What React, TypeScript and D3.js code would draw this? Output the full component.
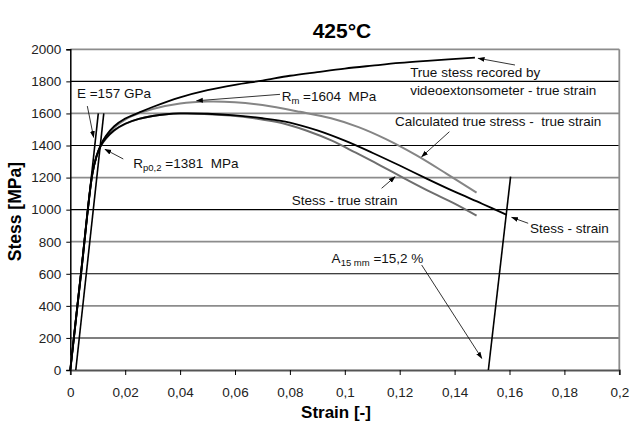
// import d3 for the chart
import * as d3 from "d3";
import { useRef, useEffect } from "react";

// axis ticks
const strainTicks = [0, 0.02, 0.04, 0.06, 0.08, 0.1, 0.12, 0.14, 0.16, 0.18, 0.2];
const strainTickLabels = ["0", "0,02", "0,04", "0,06", "0,08", "0,1", "0,12", "0,14", "0,16", "0,18", "0,2"];
const stressTicks = [0, 200, 400, 600, 800, 1000, 1200, 1400, 1600, 1800, 2000];

// true stress recorded by videoextensometer - true strain
const videoStrain = [0, 0.004, 0.008, 0.0095, 0.011, 0.013, 0.016, 0.02, 0.025, 0.03, 0.04, 0.05, 0.06, 0.07, 0.08, 0.09, 0.1, 0.11, 0.12, 0.13, 0.1474];
const videoStress = [0, 615, 1220, 1330, 1400, 1460, 1520, 1568, 1605, 1640, 1700, 1745, 1778, 1805, 1835, 1858, 1880, 1898, 1915, 1928, 1948];

// calculated true stress - true strain
const calcStrain = [0, 0.004, 0.008, 0.0095, 0.011, 0.013, 0.016, 0.02, 0.025, 0.03, 0.04, 0.05, 0.06, 0.07, 0.0837, 0.095, 0.105, 0.115, 0.126, 0.137, 0.148];
const calcStress = [0, 615, 1220, 1330, 1398, 1455, 1512, 1562, 1600, 1628, 1662, 1674, 1670, 1652, 1610, 1570, 1515, 1440, 1340, 1225, 1106];

// stress - true strain
const trueStrain = [0, 0.004, 0.008, 0.0095, 0.011, 0.013, 0.016, 0.02, 0.025, 0.03, 0.035, 0.0392, 0.0488, 0.0583, 0.0677, 0.077, 0.0862, 0.0953, 0.104, 0.113, 0.122, 0.131, 0.14, 0.148];
const trueStress = [0, 615, 1220, 1330, 1393, 1443, 1494, 1535, 1566, 1584, 1595, 1599, 1597, 1587, 1568, 1540, 1492, 1430, 1355, 1275, 1192, 1112, 1037, 962];

// stress - strain
const engStrain = [0, 0.004, 0.008, 0.0095, 0.011, 0.013, 0.016, 0.02, 0.025, 0.03, 0.035, 0.04, 0.05, 0.06, 0.07, 0.08, 0.09, 0.1, 0.11, 0.12, 0.13, 0.14, 0.15, 0.159];
const engStress = [0, 615, 1220, 1330, 1395, 1445, 1495, 1536, 1566, 1584, 1595, 1600, 1598, 1588, 1570, 1543, 1494, 1430, 1355, 1275, 1192, 1112, 1037, 967];

// straight lines: modulus line, 0.2 % offset line, unloading line at fracture
const modulusLine = [[0, 0], [0.0102, 1600]];
const offsetLine = [[0.002, 0], [0.0122, 1600]];
const unloadLine = [[0.1523, 0], [0.1604, 1206]];

// annotation texts and arrows (strain, stress)
const notes = [
  { x: 0.00244, y: 1696, parts: [["E =157 GPa", ""]] },
  { x: 0.02295, y: 1260, parts: [["R", ""], ["p0,2", "sub"], [" =1381  MPa", ""]] },
  { x: 0.077, y: 1678, parts: [["R", ""], ["m", "sub"], [" =1604  MPa", ""]] },
  { x: 0.1238, y: 1830, parts: [["True stess recored by", ""]] },
  { x: 0.1238, y: 1715, parts: [["videoextonsometer - true strain", ""]] },
  { x: 0.1183, y: 1519, parts: [["Calculated true stress -  true strain", ""]] },
  { x: 0.0807, y: 1029, parts: [["Stess - true strain", ""]] },
  { x: 0.1675, y: 854, parts: [["Stess - strain", ""]] },
  { x: 0.0952, y: 667, parts: [["A", ""], ["15 mm", "sub"], [" =15,2 %", ""]] },
];
const arrows = [
  [[0.0062, 1646], [0.0085, 1451]],
  [[0.0193, 1316], [0.01264, 1376]],
  [[0.0764, 1719], [0.046, 1679]],
  [[0.162, 1902], [0.1486, 1944]],
  [[0.1381, 1486], [0.128, 1330]],
  [[0.1134, 1133], [0.1183, 1205]],
  [[0.1668, 915], [0.1608, 952]],
  [[0.128, 655], [0.1499, 73]],
];

const W = 630;
const H = 421;
const FONT = "'Liberation Sans', Arial, sans-serif";

export default function App() {
  const svgRef = useRef<SVGSVGElement>(null);

  useEffect(() => {
    const svg = d3.select(svgRef.current);
    svg.selectAll("*").remove();

    const x = d3.scaleLinear().domain([0, 0.2]).range([70.3, 619.3]);
    const y = d3.scaleLinear().domain([0, 2000]).range([370, 49.3]);

    // arrow marker
    svg.append("defs").append("marker")
      .attr("id", "head")
      .attr("viewBox", "0 0 10 10")
      .attr("refX", 9).attr("refY", 5)
      .attr("markerWidth", 7).attr("markerHeight", 7)
      .attr("markerUnits", "userSpaceOnUse")
      .attr("orient", "auto")
      .append("path").attr("d", "M0,1.5 L10,5 L0,8.5 Z").attr("fill", "#000");

    // gridlines, alternating black / grey like the original
    svg.append("g").selectAll("line")
      .data(stressTicks.slice(1))
      .enter().append("line")
      .attr("x1", x(0)).attr("x2", x(0.2))
      .attr("y1", d => y(d)).attr("y2", d => y(d))
      .attr("stroke", (d) => (d / 200) % 2 === 1 ? "#000" : "#8c8c8c")
      .attr("stroke-width", (d) => (d / 200) % 2 === 1 ? 1.1 : 1.8);

    // right border
    svg.append("line")
      .attr("x1", x(0.2)).attr("x2", x(0.2))
      .attr("y1", y(2000)).attr("y2", y(0))
      .attr("stroke", "#8c8c8c").attr("stroke-width", 1.8);

    // axes
    const xAxis = svg.append("g")
      .attr("transform", `translate(0,${y(0)})`)
      .call(d3.axisBottom(x).tickValues(strainTicks).tickSize(5).tickFormat((d, i) => strainTickLabels[i]));
    xAxis.select(".domain").attr("stroke", "#555").attr("stroke-width", 1.8);
    xAxis.selectAll(".tick line").attr("stroke", "#000");
    xAxis.selectAll("text").attr("font-family", FONT).attr("font-size", 13.5).attr("fill", "#222").attr("dy", "1.4em");

    const yAxis = svg.append("g")
      .attr("transform", `translate(${x(0)},0)`)
      .call(d3.axisLeft(y).tickValues(stressTicks).tickSize(4).tickFormat(d3.format("d")));
    yAxis.select(".domain").attr("stroke", "#000").attr("stroke-width", 1.5);
    yAxis.selectAll(".tick line").attr("stroke", "#000");
    yAxis.selectAll("text").attr("font-family", FONT).attr("font-size", 13.5).attr("fill", "#222").attr("x", -9);

    const line = d3.line<number[]>().curve(d3.curveCatmullRom.alpha(0.5));
    const drawCurve = (xs: number[], ys: number[], color: string, w: number) => {
      svg.append("path")
        .datum(xs.map((v, i) => [x(v), y(ys[i])]))
        .attr("d", line as any)
        .attr("fill", "none")
        .attr("stroke", color)
        .attr("stroke-width", w);
    };

    drawCurve(calcStrain, calcStress, "#858585", 2);
    drawCurve(trueStrain, trueStress, "#6e6e6e", 2);
    drawCurve(engStrain, engStress, "#000", 1.8);
    drawCurve(videoStrain, videoStress, "#000", 1.8);

    // straight helper lines
    [modulusLine, offsetLine, unloadLine].forEach(seg => {
      svg.append("line")
        .attr("x1", x(seg[0][0])).attr("y1", y(seg[0][1]))
        .attr("x2", x(seg[1][0])).attr("y2", y(seg[1][1]))
        .attr("stroke", "#000").attr("stroke-width", 1.6);
    });

    // arrows
    arrows.forEach(a => {
      svg.append("line")
        .attr("x1", x(a[0][0])).attr("y1", y(a[0][1]))
        .attr("x2", x(a[1][0])).attr("y2", y(a[1][1]))
        .attr("stroke", "#000").attr("stroke-width", 0.8)
        .attr("marker-end", "url(#head)");
    });

    // annotation texts
    notes.forEach(n => {
      const t = svg.append("text")
        .attr("x", x(n.x)).attr("y", y(n.y))
        .attr("font-family", FONT).attr("font-size", 13.5).attr("fill", "#111")
        .style("white-space", "pre");
      n.parts.forEach(([s, kind], i) => {
        if (kind === "sub") {
          t.append("tspan").attr("font-size", 9.5).attr("dy", 3).text(s);
        } else {
          t.append("tspan").attr("dy", i > 0 ? -3 : 0).text(s);
        }
      });
    });

    // title and axis labels
    svg.append("text")
      .attr("x", 342).attr("y", 38)
      .attr("text-anchor", "middle")
      .attr("font-family", FONT).attr("font-weight", "bold").attr("font-size", 21)
      .text("425°C");

    svg.append("text")
      .attr("x", 336).attr("y", 418)
      .attr("text-anchor", "middle")
      .attr("font-family", FONT).attr("font-weight", "bold").attr("font-size", 17)
      .text("Strain [-]");

    svg.append("text")
      .attr("transform", `translate(21,${y(1000) + 2}) rotate(-90)`)
      .attr("text-anchor", "middle")
      .attr("font-family", FONT).attr("font-weight", "bold").attr("font-size", 17.5)
      .text("Stess [MPa]");
  }, []);

  return (
    <svg
      ref={svgRef}
      width={W}
      height={H}
      style={{ position: "absolute", left: 0, top: 0, background: "#fff" }}
    />
  );
}
